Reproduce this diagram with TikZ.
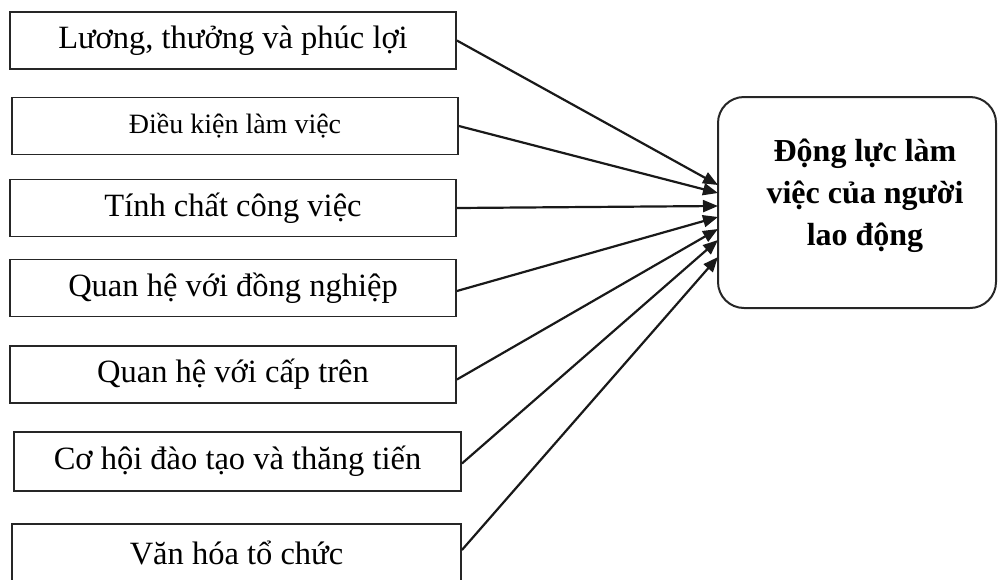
\documentclass[tikz,border=0pt]{standalone}
\usepackage{fontspec}
\setmainfont{Liberation Serif}
\usetikzlibrary{arrows.meta}
\begin{document}
\begin{tikzpicture}[x=1pt,y=-1pt,
  factor/.style={draw=black!85,line width=1.8pt,minimum width=446pt,minimum height=57pt,inner sep=0pt,font=\fontsize{32.5}{36}\selectfont},
  goal/.style={draw=black!85,line width=2pt,rounded corners=26pt,minimum width=278pt,minimum height=211pt,align=center,font=\fontsize{32}{42}\selectfont\bfseries},
  conn/.style={draw=black!90,line width=2.2pt,-{Triangle[length=15pt,width=12pt]}}]
\useasboundingbox (0,0) rectangle (998,579);
\node[factor] (b1) at (233,40.5) {Lương, thưởng và phúc lợi};
\node[factor,font=\fontsize{28}{32}\selectfont] (b2) at (235,126) {Điều kiện làm việc};
\node[factor] (b3) at (233,208) {Tính chất công việc};
\node[factor] (b4) at (233,288) {Quan hệ với đồng nghiệp};
\node[factor] (b5) at (233,374.5) {Quan hệ với cấp trên};
\node[factor,minimum width=447pt,minimum height=59pt] (b6) at (237.5,461.5) {Cơ hội đào tạo và thăng tiến};
\node[factor,minimum width=449pt,minimum height=58pt] (b7) at (236.5,553) {Văn hóa tổ chức};
\node[goal] (g) at (857,202.5) {};
\node[align=center,font=\fontsize{32}{42}\selectfont\bfseries] (gt) at (865,196) {Động lực làm\\việc của người\\lao động};
\coordinate (t1) at (718,185);
\coordinate (t2) at (718,193);
\coordinate (t3) at (718,206);
\coordinate (t4) at (718,217);
\coordinate (t5) at (718,229);
\coordinate (t6) at (718,240);
\coordinate (t7) at (718,257);
\draw[conn] (b1.east) -- (t1);
\draw[conn] (b2.east) -- (t2);
\draw[conn] (b3.east) -- (t3);
\draw[conn] ([yshift=-3pt]b4.east) -- (t4);
\draw[conn] ([yshift=-5pt]b5.east) -- (t5);
\draw[conn] ([yshift=-2pt]b6.east) -- (t6);
\draw[conn] ([yshift=3pt]b7.east) -- (t7);
\end{tikzpicture}
\end{document}
